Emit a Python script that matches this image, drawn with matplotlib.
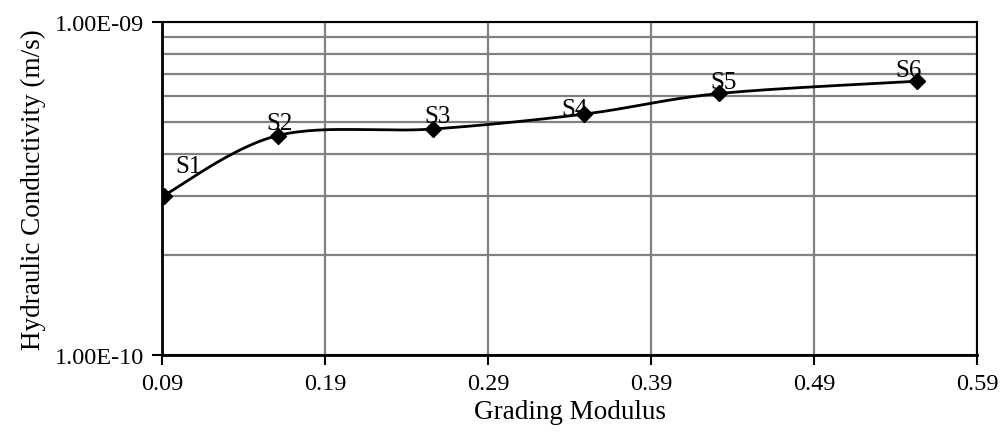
import matplotlib
matplotlib.use('Agg')
import matplotlib.pyplot as plt
import numpy as np

# data
samples = ['S1', 'S2', 'S3', 'S4', 'S5', 'S6']
grading_modulus = [0.091, 0.161, 0.256, 0.349, 0.432, 0.553]
hyd_cond = [3.01e-10, 4.56e-10, 4.77e-10, 5.29e-10, 6.10e-10, 6.64e-10]
x_ticks = [0.09, 0.19, 0.29, 0.39, 0.49, 0.59]
y_ticks = [1e-10, 1e-9]
y_tick_labels = ['1.00E-10', '1.00E-09']

# label offsets (points) from each marker to its label centre
label_offsets = [(18, 21), (1.5, 9), (3.5, 9.5), (-7, 3.5), (3, 8), (-6, 8)]

plt.rcParams['font.family'] = ['Liberation Serif', 'DejaVu Serif']

fig = plt.figure(figsize=(10, 4.35), dpi=100)
ax = fig.add_axes([0.162, 0.182, 0.815, 0.765])
ax.set_yscale('log')
ax.set_xlim(0.09, 0.59)
ax.set_ylim(1e-10, 1e-9)

# gridlines
ax.set_xticks(x_ticks)
ax.set_xticklabels([f'{t:.2f}' for t in x_ticks])
ax.set_yticks(y_ticks)
ax.set_yticklabels(y_tick_labels)
ax.yaxis.set_minor_locator(matplotlib.ticker.LogLocator(base=10, subs=np.arange(2, 10)))
ax.yaxis.set_minor_formatter(matplotlib.ticker.NullFormatter())
ax.grid(True, which='both', axis='y', color='#808080', linewidth=1.6)
ax.grid(True, which='major', axis='x', color='#808080', linewidth=1.6)
ax.set_axisbelow(True)
ax.tick_params(axis='y', which='minor', length=0)
ax.tick_params(axis='both', which='major', direction='out', length=7, width=1.5,
               labelsize=17.5, color='black', pad=6)

for s in ax.spines.values():
    s.set_color('black')
    s.set_linewidth(1.5)
ax.spines['left'].set_linewidth(2)
ax.spines['bottom'].set_linewidth(2)

# smoothed line (Catmull-Rom style, computed in display space)
fig.canvas.draw()
pts = ax.transData.transform(np.column_stack([grading_modulus, hyd_cond]))
n = len(pts)
curve = []
for i in range(n - 1):
    p0 = pts[max(i - 1, 0)]
    p1 = pts[i]
    p2 = pts[i + 1]
    p3 = pts[min(i + 2, n - 1)]
    c1 = p1 + (p2 - p0) / 6.0
    c2 = p2 - (p3 - p1) / 6.0
    t = np.linspace(0, 1, 30)[:, None]
    seg = ((1 - t) ** 3) * p1 + 3 * ((1 - t) ** 2) * t * c1 + 3 * (1 - t) * t ** 2 * c2 + t ** 3 * p2
    curve.append(seg)
curve = np.vstack(curve)
curve_data = ax.transData.inverted().transform(curve)
ax.plot(curve_data[:, 0], curve_data[:, 1], color='black', linewidth=2, zorder=3)
ax.plot(grading_modulus, hyd_cond, linestyle='none', marker='D', markersize=8,
        color='black', zorder=4)

for name, x, y, off in zip(samples, grading_modulus, hyd_cond, label_offsets):
    ax.annotate(name, (x, y), xytext=off, textcoords='offset points',
                ha='center', va='center', fontsize=18, zorder=5)

ax.set_xlabel('Grading Modulus', fontsize=19.5, labelpad=4)
ax.set_ylabel('Hydraulic Conductivity (m/s)', fontsize=19.5, labelpad=6)

fig.savefig('out.png', dpi=100)
